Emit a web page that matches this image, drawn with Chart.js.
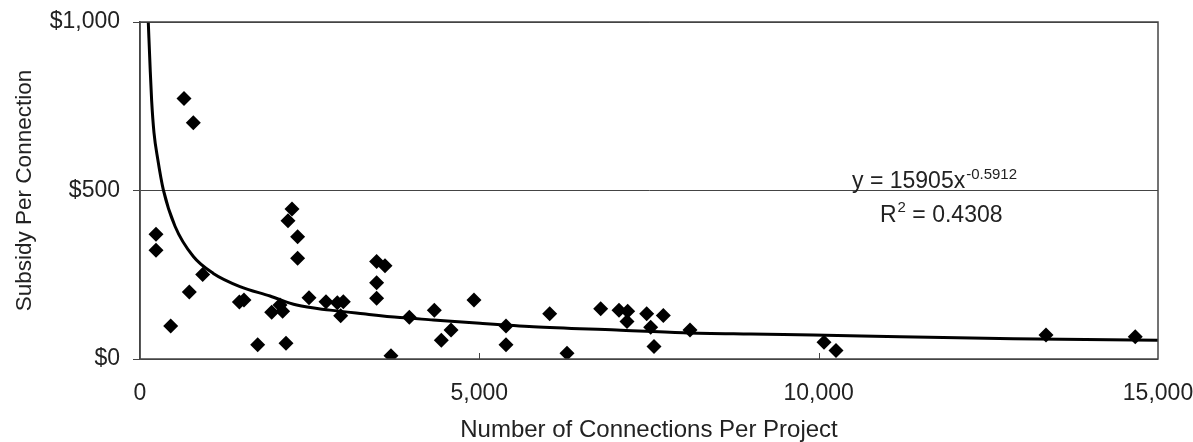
<!DOCTYPE html>
<html>
<head>
<meta charset="utf-8">
<script src="https://cdn.jsdelivr.net/npm/chart.js@4"></script>
<style>
  html, body { margin:0; padding:0; background:#fff; }
  #wrap { width:1193px; height:442px; }
</style>
</head>
<body>
<div id="wrap"><canvas id="subsidyChart"></canvas></div>
<script>
// connections per project vs subsidy per connection
const connections = [648,786,236,236,452,727,924,1464,1532,1734,1940,2063,2102,2151,2240,2181,2323,2323,2490,2741,
  2907,2996,2957,3487,3610,3487,3487,3698,3968,4337,4583,4440,4921,5393,5393,6037,6292,6788,7058,7186,
  7176,7466,7711,7525,7574,8104,10079,10255,13350,14665];
const subsidy = [773,701,370,323,98,199,251,169,175,42,139,160,142,47,445,410,363,299,182,170,
  167,170,128,289,277,226,180,10,124,145,86,56,175,98,42,134,17,149,145,142,
  111,134,129,94,37,86,50,25,71,66];

// power trendline as drawn in the figure
const trendX = [122,150,172,206,260,344,516,786,1080,1473,1916,2309,2800,3290,3831,4322,5010,5795,7024,8006,9000,9921,11198,12868,15000];
const trendY = [1000,860,765,672,595,502,394,304,254,215,187,160,145,134,123,116,106,96,86,78,74,71,66,60,56];

const xTicks = [0,5000,10000,15000];
const yTicks = [0,500,1000];
const equation = ["y = 15905x", "-0.5912"];
const rSquared = ["R", "2", " = 0.4308"];

const FONT = "'Liberation Sans', Arial, sans-serif";
const INK = "#222";
const GRID = "#444";

const frame = {
  id: "frame",
  afterDatasetsDraw(chart) {
    const {ctx, chartArea:a, scales:{x}} = chart;
    ctx.save();
    ctx.strokeStyle = GRID;
    ctx.lineWidth = 1.5;
    ctx.strokeRect(a.left, a.top, a.right - a.left, a.bottom - a.top);
    // small inside ticks on the x axis
    ctx.lineWidth = 1;
    xTicks.slice(1, -1).forEach(v => {
      const px = Math.round(x.getPixelForValue(v)) + 0.5;
      ctx.beginPath();
      ctx.moveTo(px, a.bottom);
      ctx.lineTo(px, a.bottom - 6);
      ctx.stroke();
    });

    // equation label
    ctx.fillStyle = INK;
    ctx.textBaseline = "alphabetic";
    ctx.textAlign = "left";
    let ex = a.right - 306, ey = a.top + 166;
    ctx.font = "23px " + FONT;
    ctx.fillText(equation[0], ex, ey);
    ex += ctx.measureText(equation[0]).width + 1;
    ctx.font = "15px " + FONT;
    ctx.fillText(equation[1], ex, ey - 9);

    let rx = a.right - 278, ry = a.top + 200;
    ctx.font = "23px " + FONT;
    ctx.fillText(rSquared[0], rx, ry);
    rx += ctx.measureText(rSquared[0]).width + 1;
    ctx.font = "15px " + FONT;
    ctx.fillText(rSquared[1], rx, ry - 10);
    rx += ctx.measureText(rSquared[1]).width;
    ctx.font = "23px " + FONT;
    ctx.fillText(rSquared[2], rx, ry);
    ctx.restore();
  }
};

new Chart(document.getElementById("subsidyChart"), {
  type: "scatter",
  data: {
    datasets: [
      {
        label: "Projects",
        data: connections.map((c, i) => ({x: c, y: subsidy[i]})),
        pointStyle: "rectRot",
        pointRadius: 7.5,
        pointHoverRadius: 7.5,
        backgroundColor: "#000",
        borderColor: "#000",
        borderWidth: 0,
        order: 1
      },
      {
        label: "Power trend",
        data: trendX.map((t, i) => ({x: t, y: trendY[i]})),
        showLine: true,
        pointRadius: 0,
        borderColor: "#000",
        borderWidth: 3,
        cubicInterpolationMode: "monotone",
        fill: false,
        order: 2
      }
    ]
  },
  options: {
    responsive: true,
    maintainAspectRatio: false,
    animation: false,
    events: [],
    layout: {padding: {top: 22, right: 0, left: 0, bottom: 0}},
    plugins: {legend: {display: false}, tooltip: {enabled: false}},
    scales: {
      x: {
        type: "linear",
        min: 0, max: 15000,
        afterBuildTicks: s => { s.ticks = xTicks.map(v => ({value: v})); },
        afterFit: s => { s.height = 83; s.paddingRight = 35; },
        grid: {display: false},
        border: {display: false},
        ticks: {
          padding: 13,
          color: INK,
          font: {family: FONT, size: 23},
          maxRotation: 0,
          callback: v => v.toLocaleString("en-US")
        },
        title: {
          display: true,
          text: "Number of Connections Per Project",
          color: INK,
          font: {family: FONT, size: 24, lineHeight: 1},
          padding: {top: 0, bottom: 0}
        }
      },
      y: {
        min: 0, max: 1000,
        afterBuildTicks: s => { s.ticks = yTicks.map(v => ({value: v})); },
        afterFit: s => { s.width = 140; s.paddingTop = 0; s.paddingBottom = 0; },
        grid: {color: GRID, lineWidth: 1, tickLength: 7},
        border: {color: GRID, width: 1.5},
        ticks: {
          padding: 13,
          color: INK,
          font: {family: FONT, size: 23},
          callback: v => "$" + v.toLocaleString("en-US")
        },
        title: {
          display: true,
          text: "Subsidy Per Connection",
          color: INK,
          font: {family: FONT, size: 22.5, lineHeight: 1},
          padding: {top: 14, bottom: 0}
        }
      }
    }
  },
  plugins: [frame]
});
</script>
</body>
</html>
